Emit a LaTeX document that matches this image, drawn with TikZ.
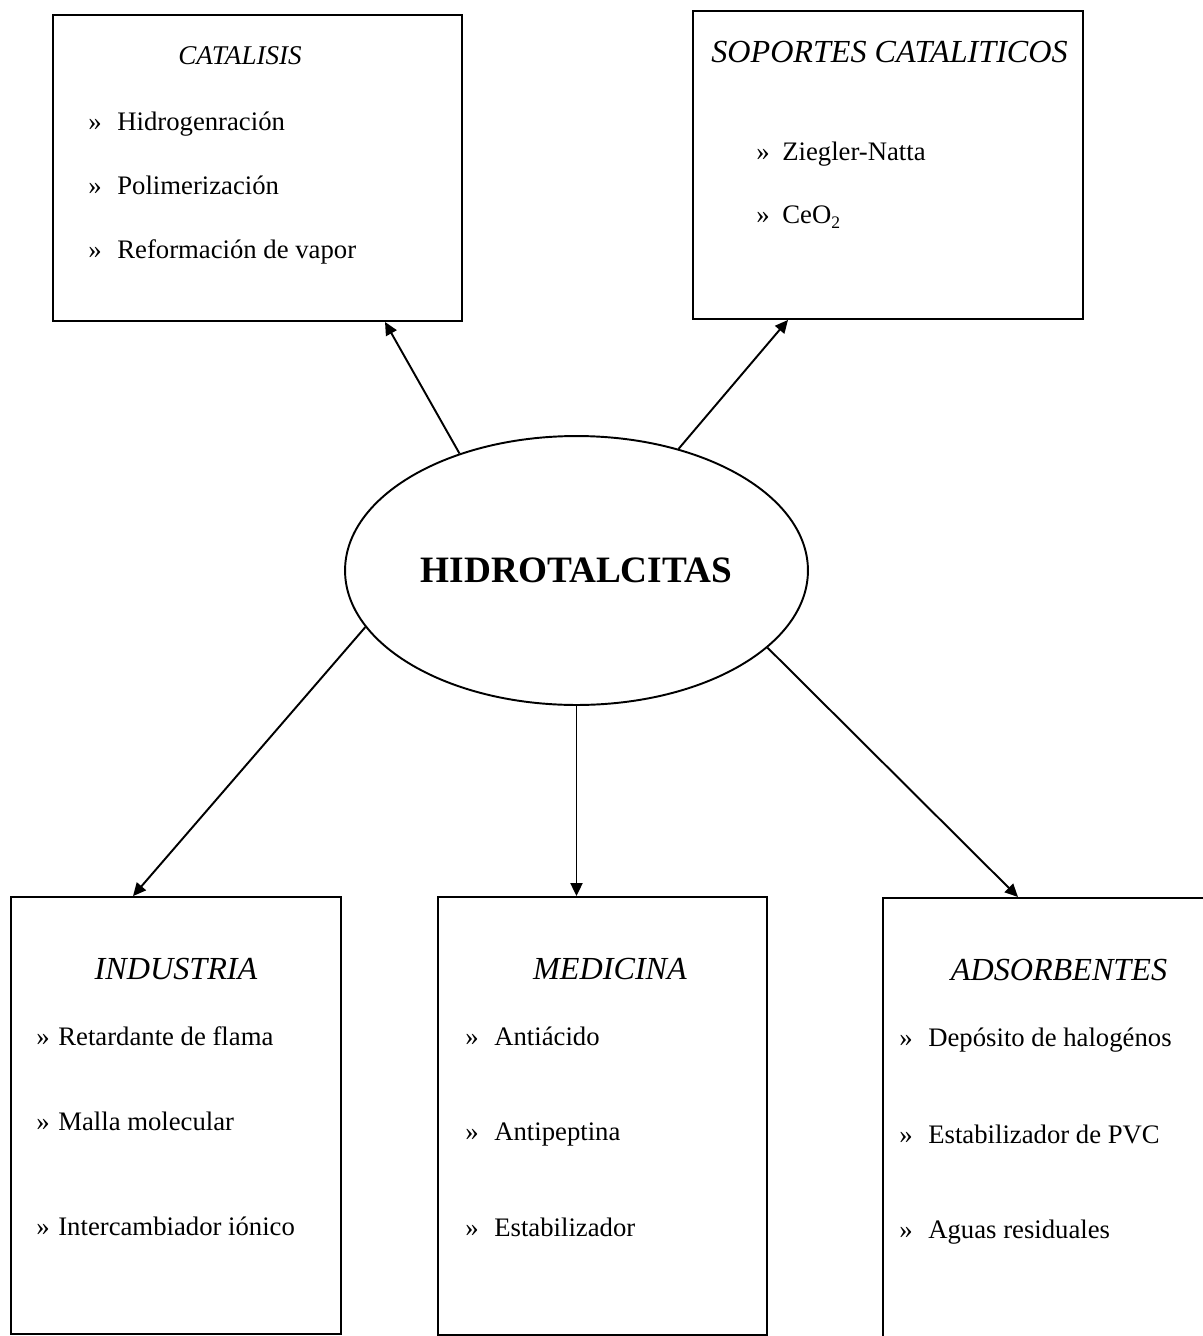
\documentclass[tikz,border=0pt]{standalone}
\usepackage{fontspec}
\setmainfont{Liberation Serif}
\usetikzlibrary{calc,arrows.meta,shapes.geometric}
\tikzset{
	caja/.style={draw, line width=1.1pt, inner sep=0pt},
	titulo/.style={font=\fontsize{18.3}{22}\selectfont\itshape, anchor=base, inner sep=0pt},
	punto/.style={font=\fontsize{15.2}{18}\selectfont, anchor=base west, inner sep=0pt},
	flecha/.style={line width=1.1pt, -{Triangle[length=0.26cm,width=0.24cm]}}
}

\begin{document}
\begin{tikzpicture}[x=0.02cm, y=-0.02cm]
			%%%%% START %%%%%
			\useasboundingbox (0,0) rectangle (1203,1336);
			
			\node[draw, ellipse, line width=1.1pt, minimum width=9.26cm, minimum height=5.38cm, font=\fontsize{21.2}{25}\selectfont\bfseries] (hidro) at (576.5,570.5) {\raisebox{-0.15ex}{HIDROTALCITAS}};
			
			\node[caja, minimum width=8.18cm, minimum height=6.12cm] (cat) at (257.5,168) {};
			\node[titulo, font=\fontsize{15.4}{18}\selectfont\itshape] (catT) at (240,64) {CATALISIS};
			\node[punto] (catA) at (88,130) {»};
			\node[punto] (cat1) at (117,130) {Hidrogenración};
			\node[punto] (catB) at (88,194) {»};
			\node[punto] (cat2) at (117,194) {Polimerización};
			\node[punto] (catC) at (88,258) {»};
			\node[punto] (cat3) at (117,258) {Reformación de vapor};
			
			\node[caja, minimum width=7.8cm, minimum height=6.16cm] (sop) at (888,165) {};
			\node[titulo] (sopT) at (889.5,62) {SOPORTES CATALITICOS};
			\node[punto] (sopA) at (756,160) {»};
			\node[punto] (sop1) at (782,160) {Ziegler-Natta};
			\node[punto] (sopB) at (756,223) {»};
			\node[punto] (sop2) at (782,223) {CeO\raisebox{-0.45ex}{\fontsize{10}{12}\selectfont 2}};
			
			\node[caja, minimum width=6.6cm, minimum height=8.74cm] (ind) at (176,1115.5) {};
			\node[titulo] (indT) at (176,979) {INDUSTRIA};
			\node[punto] (indA) at (36,1045) {»};
			\node[punto] (ind1) at (58,1045) {Retardante de flama};
			\node[punto] (indB) at (36,1130) {»};
			\node[punto] (ind2) at (58,1130) {Malla molecular};
			\node[punto] (indC) at (36,1235) {»};
			\node[punto] (ind3) at (58,1235) {Intercambiador iónico};
			
			\node[caja, minimum width=6.58cm, minimum height=8.76cm] (med) at (602.5,1116) {};
			\node[titulo] (medT) at (610,979) {MEDICINA};
			\node[punto] (medA) at (465,1045) {»};
			\node[punto] (med1) at (494,1045) {Antiácido};
			\node[punto] (medB) at (465,1140) {»};
			\node[punto] (med2) at (494,1140) {Antipeptina};
			\node[punto] (medC) at (465,1236) {»};
			\node[punto] (med3) at (494,1236) {Estabilizador};
			
			\node[caja, anchor=north west, minimum width=6.9cm, minimum height=9.3cm] (ads) at (882,897) {};
			\node[titulo] (adsT) at (1059,980) {ADSORBENTES};
			\node[punto] (adsA) at (899,1046) {»};
			\node[punto] (ads1) at (928,1046) {Depósito de halogénos};
			\node[punto] (adsB) at (899,1143) {»};
			\node[punto] (ads2) at (928,1143) {Estabilizador de PVC};
			\node[punto] (adsC) at (899,1238) {»};
			\node[punto] (ads3) at (928,1238) {Aguas residuales};
			
			\draw[flecha] (hidro.135) -- ($(cat.south)+(127.5,0)$);
			\draw[flecha] (hidro.50) -- ($(sop.south)+(-100,0)$);
			\draw[flecha] (hidro.195) -- ($(ind.north)+(-43,0)$);
			\draw[flecha] (hidro.south) -- (hidro.south |- med.north);
			\draw[flecha] (hidro.338.6) -- ($(ads.north west)+(136,0)$);
			
			%%%%% END %%%%%
\end{tikzpicture}
\end{document}
